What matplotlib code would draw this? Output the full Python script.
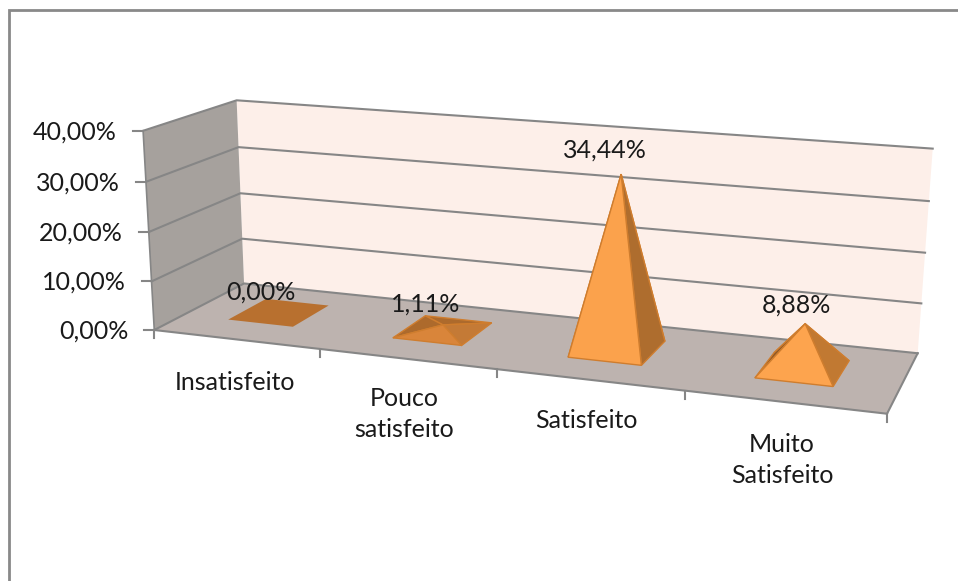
import numpy as np
import matplotlib
matplotlib.use('Agg')
import matplotlib.pyplot as plt
from matplotlib.patches import Polygon

CATEGORIES = ['Insatisfeito', 'Pouco\nsatisfeito', 'Satisfeito', 'Muito\nSatisfeito']
VALUES = [0.00, 1.11, 34.44, 8.88]
VALUE_LABELS = ['0,00%', '1,11%', '34,44%', '8,88%']
Y_TICKS = [0, 10, 20, 30, 40]
Y_TICK_LABELS = ['0,00%', '10,00%', '20,00%', '30,00%', '40,00%']

W, H = 958, 581

# corners of the chart box in pixels, (category, depth, value) -> (px, py)
BOX = [
    ((0, 0, 0), (154, 327)), ((4, 0, 0), (887, 414)),
    ((0, 1, 0), (244, 287)), ((4, 1, 0), (918, 352)),
    ((0, 0, 40), (143, 129)), ((4, 0, 40), (903, 194)),
    ((0, 1, 40), (237, 101)), ((4, 1, 40), (932, 145)),
]

# where the texts sit, in pixels
VALUE_LABEL_POS = [(261, 292), (426, 304), (605, 150), (796, 305)]
CATEGORY_LABEL_POS = [(235, 382), (404, 414), (586, 420), (782, 460)]
YTICK_LABEL_GAP = 26
FONT_SIZE = 18
HALF_W = 0.2
HALF_D = 0.22
CENTER_D = 0.53

FLOOR = '#bdb3af'
WALL_SIDE = '#a6a19d'
WALL_BACK = '#fdefe9'
GRID = '#868686'
EDGE = '#cf7d2e'
TEXT = '#1a1a1a'
# back, left, right, front face of each pyramid
FACES = [
    ['#b8702f', '#b8702f', '#b8702f', '#b8702f'],
    ['#ad6a2c', '#ad6a2c', '#c47a36', '#d9853a'],
    ['#a5652a', '#a5652a', '#ae6d2e', '#fba24c'],
    ['#a5652a', '#8f5825', '#c17932', '#fda44e'],
]


def fit_camera():
    rows = []
    for (x, d, v), (px, py) in BOX:
        p = [x, d, v, 1]
        rows.append(p + [0, 0, 0, 0] + [-px * c for c in p])
        rows.append([0, 0, 0, 0] + p + [-py * c for c in p])
    _, _, vt = np.linalg.svd(np.array(rows, dtype=float))
    return vt[-1].reshape(3, 4)


CAM = fit_camera()


def project(x, d, v):
    a = CAM @ np.array([x, d, v, 1.0])
    return a[0] / a[2], a[1] / a[2]


def poly(points, color, edge='none', lw=0, z=1):
    ax.add_patch(Polygon(points, closed=True, facecolor=color, edgecolor=edge, linewidth=lw, zorder=z))


plt.rcParams['font.family'] = ['Lato', 'DejaVu Sans']
fig = plt.figure(figsize=(W / 100, H / 100), dpi=100)
ax = fig.add_axes([0, 0, 1, 1])
ax.set_xlim(0, W)
ax.set_ylim(H, 0)
ax.axis('off')

# outer frame, only the top and left sides are in the picture
ax.plot([9, 9, W], [H, 10, 10], color='#898989', lw=2, solid_joinstyle='miter')

poly([project(0, 1, 0), project(4, 1, 0), project(4, 1, 40), project(0, 1, 40)], WALL_BACK)
poly([project(0, 0, 0), project(0, 1, 0), project(0, 1, 40), project(0, 0, 40)], WALL_SIDE)
poly([project(0, 0, 0), project(4, 0, 0), project(4, 1, 0), project(0, 1, 0)], FLOOR)

for t, lab in zip(Y_TICKS, Y_TICK_LABELS):
    pts = [project(0, 0, t), project(0, 1, t), project(4, 1, t)]
    ax.plot(*zip(*pts), color=GRID, lw=1.5, zorder=2)
    fx, fy = project(0, 0, t)
    ax.plot([fx, fx - 10], [fy, fy], color=GRID, lw=1.5, zorder=2)
    ax.text(fx - YTICK_LABEL_GAP, fy + 1, lab, ha='right', va='center', fontsize=FONT_SIZE, color=TEXT, zorder=6)

# wall edge and floor border
ax.plot(*zip(project(0, 0, 0), project(0, 0, 40)), color=GRID, lw=1.2, zorder=2)
for a, b in [((0, 0, 0), (4, 0, 0)), ((4, 0, 0), (4, 1, 0))]:
    ax.plot(*zip(project(*a), project(*b)), color=GRID, lw=1.5, zorder=2)

# category ticks on the front edge
for i in range(len(CATEGORIES) + 1):
    fx, fy = project(i, 0, 0)
    ax.plot([fx, fx], [fy, fy + 8], color=GRID, lw=1.5, zorder=2)

for i, val in enumerate(VALUES):
    cx = i + 0.48
    fl = project(cx - HALF_W, CENTER_D - HALF_D, 0)
    fr = project(cx + HALF_W, CENTER_D - HALF_D, 0)
    br = project(cx + HALF_W, CENTER_D + HALF_D, 0)
    bl = project(cx - HALF_W, CENTER_D + HALF_D, 0)
    apex = project(cx, CENTER_D, val)
    back, left, right, front = FACES[i]
    if val == 0:
        # nothing to see but the flat base
        poly([fl, fr, br, bl], front, z=3)
    else:
        poly([bl, br, apex], back, EDGE, 1.0, 3)
        poly([fl, bl, apex], left, EDGE, 1.0, 3)
        poly([br, fr, apex], right, EDGE, 1.0, 4)
        poly([fl, fr, apex], front, EDGE, 1.0, 4)
    px, py = VALUE_LABEL_POS[i]
    ax.text(px, py, VALUE_LABELS[i], ha='center', va='center', fontsize=FONT_SIZE, color=TEXT, zorder=6)

for lab, (px, py) in zip(CATEGORIES, CATEGORY_LABEL_POS):
    ax.text(px, py, lab, ha='center', va='center', fontsize=FONT_SIZE, color=TEXT,
            linespacing=1.4, zorder=6)

fig.savefig('out.png', dpi=100)
